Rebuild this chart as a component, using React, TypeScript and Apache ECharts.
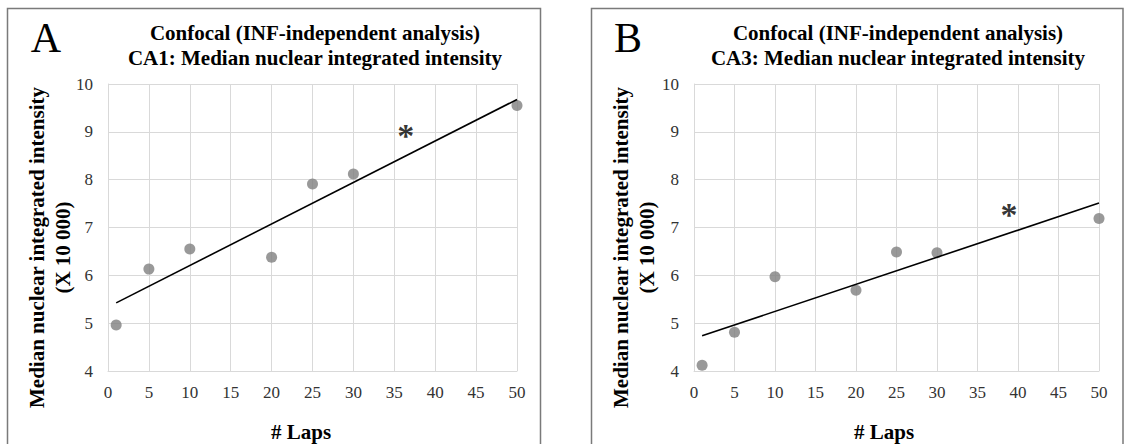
import React, { useEffect, useRef } from "react";
import * as echarts from "echarts";

// ---- data ----
const laps = [1, 5, 10, 20, 25, 30, 50];
const ca1Values = [4.96, 6.13, 6.55, 6.38, 7.91, 8.12, 9.55];
const ca3Values = [4.12, 4.81, 5.97, 5.69, 6.49, 6.47, 7.19];
const asteriskA = [36.4, 9.04];
const asteriskB = [38.9, 7.39];
const xMin = 0, xMax = 50, xStep = 5;
const yMin = 4, yMax = 10, yStep = 1;
const titleLine1 = "Confocal (INF-independent analysis)";
const titleA = "CA1: Median nuclear integrated intensity";
const titleB = "CA3: Median nuclear integrated intensity";
const yTitle = "Median nuclear integrated intensity\n(X 10 000)";
const xTitle = "# Laps";

const SERIF = "Liberation Serif";

function fit(xs: number[], ys: number[]) {
  const n = xs.length;
  const mx = xs.reduce((a, b) => a + b, 0) / n;
  const my = ys.reduce((a, b) => a + b, 0) / n;
  let sxy = 0, sxx = 0;
  for (let i = 0; i < n; i++) {
    sxy += (xs[i] - mx) * (ys[i] - my);
    sxx += (xs[i] - mx) * (xs[i] - mx);
  }
  const slope = sxy / sxx;
  const icpt = my - slope * mx;
  const x0 = Math.min(...xs), x1 = Math.max(...xs);
  return [[x0, icpt + slope * x0], [x1, icpt + slope * x1]];
}

export default function App() {
  const ref = useRef<HTMLDivElement>(null);
  useEffect(() => {
    if (!ref.current) return;
    const chart = echarts.init(ref.current, null, { renderer: "svg" });
    const grids = [
      { left: 108, right: 1125 - 517, top: 84, bottom: 73 },
      { left: 694, right: 1125 - 1099, top: 84, bottom: 73 },
    ];
    const mkX = (i: number) => ({
      type: "value", gridIndex: i, min: xMin, max: xMax, interval: xStep,
      axisLine: { show: true, lineStyle: { color: "#d9d9d9", width: 1 } },
      axisTick: { show: false },
      splitLine: { show: true, lineStyle: { color: "#d9d9d9", width: 1 } },
      axisLabel: { fontFamily: SERIF, fontSize: 17, color: "#333", margin: 13 },
    });
    const mkY = (i: number) => ({
      type: "value", gridIndex: i, min: yMin, max: yMax, interval: yStep,
      axisLine: { show: true, lineStyle: { color: "#d9d9d9", width: 1 } },
      axisTick: { show: false },
      splitLine: { show: true, lineStyle: { color: "#d9d9d9", width: 1 } },
      axisLabel: { fontFamily: SERIF, fontSize: 17, color: "#333", margin: 15 },
    });
    const points = (ys: number[]) => laps.map((x, i) => [x, ys[i]]);
    const scatter = (i: number, ys: number[]) => ({
      type: "scatter", xAxisIndex: i, yAxisIndex: i, data: points(ys),
      symbolSize: 11, clip: false, itemStyle: { color: "#808080" }, z: 3,
    });
    const trend = (i: number, ys: number[]) => ({
      type: "line", xAxisIndex: i, yAxisIndex: i, data: fit(laps, ys),
      symbol: "none", lineStyle: { color: "#000", width: 1.6 }, z: 4,
    });
    const star = (i: number, p: number[]) => ({
      type: "scatter", xAxisIndex: i, yAxisIndex: i, data: [p],
      symbolSize: 1, itemStyle: { color: "rgba(0,0,0,0)" }, z: 5,
      label: {
        show: true, formatter: "*", position: "inside", fontFamily: SERIF,
        fontSize: 34, fontWeight: "bold", color: "#000", offset: [0, 6],
      },
    });
    const txt = (x: number, y: number, text: string, size: number, weight: string, extra: any = {}) => ({
      type: "text", x, y, ...extra,
      style: {
        text, fontFamily: SERIF, fontSize: size, fontWeight: weight, fill: "#000",
        align: "center", verticalAlign: "middle", lineHeight: extra.lineHeight || size * 1.2,
      },
    });
    chart.setOption({
      animation: false,
      backgroundColor: "#fff",
      textStyle: { fontFamily: SERIF },
      grid: grids,
      xAxis: [mkX(0), mkX(1)],
      yAxis: [mkY(0), mkY(1)],
      series: [
        scatter(0, ca1Values), trend(0, ca1Values), star(0, asteriskA),
        scatter(1, ca3Values), trend(1, ca3Values), star(1, asteriskB),
      ],
      graphic: [
        { type: "rect", shape: { x: 7.5, y: 8.5, width: 533, height: 460 }, style: { fill: "none", stroke: "#7a7a7a", lineWidth: 1.5 } },
        { type: "rect", shape: { x: 591.5, y: 8.5, width: 531.5, height: 460 }, style: { fill: "none", stroke: "#7a7a7a", lineWidth: 1.5 } },
        txt(46, 38, "A", 42, "normal"),
        txt(628, 38, "B", 42, "normal"),
        txt(315, 45.5, titleLine1 + "\n" + titleA, 21, "bold", { lineHeight: 24.5 }),
        txt(898, 45.5, titleLine1 + "\n" + titleB, 21, "bold", { lineHeight: 24.5 }),
        txt(50, 247.5, yTitle, 21, "bold", { rotation: Math.PI / 2, lineHeight: 26 }),
        txt(634, 247.5, yTitle, 21, "bold", { rotation: Math.PI / 2, lineHeight: 26 }),
        txt(301, 432, xTitle, 21, "bold"),
        txt(884, 432, xTitle, 21, "bold"),
      ],
    });
    return () => chart.dispose();
  }, []);
  return (
    <div
      ref={ref}
      style={{ position: "fixed", left: 0, top: 0, width: 1125, height: 444, background: "#fff" }}
    />
  );
}
